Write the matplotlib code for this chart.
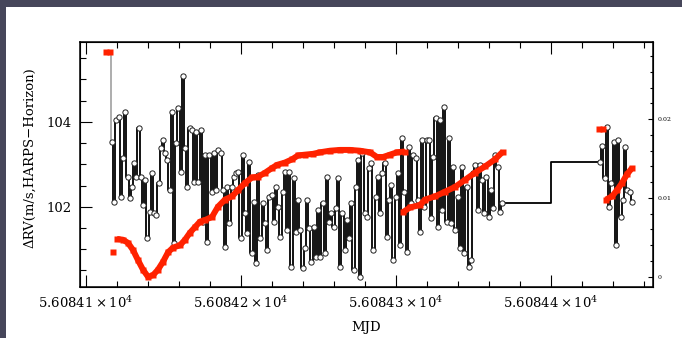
import numpy as np
import matplotlib.pyplot as plt
from matplotlib.ticker import MultipleLocator, FuncFormatter
from matplotlib.patches import Rectangle

plt.rcParams['font.family'] = 'DejaVu Serif'
plt.rcParams['mathtext.fontset'] = 'dejavuserif'

# delta RV (m/s), black series
rv_first = 105.62
t_first = 56084.11548
rv_main = [
    103.52, 102.11, 104.04, 104.11, 102.23, 103.15, 104.23, 102.70, 102.20, 102.46,
    103.03, 102.70, 103.85, 102.70, 102.04, 102.63, 101.26, 101.88, 102.79, 101.85,
    101.80, 102.56, 103.38, 103.57, 103.26, 103.10, 102.39, 104.23, 101.15, 103.50,
    104.32, 102.82, 105.08, 103.38, 102.46, 103.85, 103.80, 102.58, 103.76, 102.58,
    103.80, 101.64, 103.22, 101.17, 103.22, 102.35, 103.26, 102.39, 103.33, 103.26,
    102.39, 101.05, 102.46, 101.62, 102.46, 102.70, 102.79, 102.82, 101.26, 103.22,
    101.85, 101.38, 103.05, 100.91, 102.11, 100.68, 102.75, 101.26, 102.09, 101.62,
    100.98, 102.23, 102.28, 101.64, 102.46, 101.99, 101.29, 102.35, 102.82, 101.45,
    102.82, 100.58, 102.68, 101.40, 102.16, 101.45, 100.56, 101.03, 102.16, 101.50,
    100.70, 101.52, 100.82, 101.92, 100.82, 102.09, 100.91, 102.70, 101.64, 101.85,
    101.52, 101.97, 102.68, 100.58, 101.85, 100.98, 101.69, 101.26, 102.09, 100.51,
    102.46, 103.10, 100.35, 103.26, 101.85, 101.76, 102.91, 103.03, 100.98, 102.23,
    102.70, 101.85, 102.79, 103.03, 101.29, 102.16, 102.51, 100.75, 102.23, 102.79,
    101.10, 103.62, 102.35, 100.93, 103.40, 102.09, 103.22, 103.15, 102.16, 101.40,
    103.57, 101.99, 103.57, 103.57, 101.73, 103.17, 104.09, 101.52, 104.04, 101.92,
    104.35, 101.64, 103.62, 101.62, 102.93, 101.45, 102.23, 101.03, 102.93, 100.91,
    102.46, 100.58, 100.75, 102.79, 102.98, 101.92, 102.98, 102.63, 101.85, 102.70,
    101.76, 102.39, 101.97, 103.22, 102.93, 101.88, 102.09,
]
t_main = (56084.11677, 56084.36839)
rv_late = [103.05, 103.43, 102.68, 103.87, 101.99, 102.56, 103.52, 101.10,
           103.57, 101.76, 102.16, 103.40, 102.39, 102.35, 102.11]
t_late = (56084.43161, 56084.45226)

# red series (right axis)
red_t_a = [56084.11290, 56084.11548]
red_v_a = [0.0285, 0.0285]
red_t_b = [56084.11723]
red_v_b = [0.0032]
red_t_c = [56084.12000, 56084.12387, 56084.12710, 56084.13032, 56084.13355,
           56084.13677, 56084.14000, 56084.14323, 56084.14645, 56084.14968,
           56084.15290, 56084.15613, 56084.16065, 56084.16387, 56084.16710,
           56084.17032, 56084.17355, 56084.17677, 56084.18129, 56084.18516,
           56084.18968, 56084.19419, 56084.19806, 56084.20258, 56084.20710,
           56084.21097, 56084.21548, 56084.22000, 56084.22323, 56084.22839,
           56084.23290, 56084.23677, 56084.24129, 56084.24645, 56084.25097,
           56084.25742, 56084.26387, 56084.27032, 56084.27677, 56084.28323,
           56084.28774, 56084.29161, 56084.29613, 56084.30065, 56084.30581]
red_v_c = [0.0048, 0.0047, 0.0043, 0.0034, 0.0021, 0.0009, 0.0000, 0.0002, 0.0009,
           0.0019, 0.0031, 0.0037, 0.0040, 0.0047, 0.0056, 0.0063, 0.0070, 0.0072,
           0.0076, 0.0089, 0.0098, 0.0102, 0.0110, 0.0119, 0.0126, 0.0127, 0.0132,
           0.0138, 0.0142, 0.0145, 0.0149, 0.0154, 0.0155, 0.0156, 0.0158, 0.0160,
           0.0161, 0.0161, 0.0160, 0.0158, 0.0152, 0.0152, 0.0155, 0.0158, 0.0159]
red_t_d = [56084.30452, 56084.30903, 56084.31548, 56084.31871, 56084.32516,
           56084.33161, 56084.33806, 56084.34452, 56084.35097, 56084.35742,
           56084.36387, 56084.36903]
red_v_d = [0.0082, 0.0088, 0.0091, 0.0098, 0.0102, 0.0108, 0.0114, 0.0123,
           0.0132, 0.0140, 0.0149, 0.0159]
red_t_e = [56084.43097, 56084.43355]
red_v_e = [0.0188, 0.0188]
red_t_f = [56084.43548, 56084.43935, 56084.44258, 56084.44581, 56084.44903, 56084.45226]
red_v_f = [0.0098, 0.0102, 0.0110, 0.0119, 0.0130, 0.0138]

t_black = np.concatenate([np.linspace(*t_main, len(rv_main)),
                          np.linspace(*t_late, len(rv_late))])
rv_black = np.array(rv_main + rv_late)

fig = plt.figure(figsize=(6.82, 3.38), dpi=100)
fig.patch.set_facecolor('#46465a')
fig.add_artist(Rectangle((6/682, 0), 1, 331/338, transform=fig.transFigure,
                         facecolor='white', edgecolor='none', zorder=-1))
ax = fig.add_axes([80/682, 1-287/338, 573/682, 245/338])

ax.plot([t_first, t_black[0]], [rv_first, rv_black[0]], drawstyle='steps-mid',
        color='#a0a0a0', lw=1.2)
ax.plot(t_black, rv_black, drawstyle='steps-mid', color='black', lw=1.3,
        marker='o', ms=3.8, mfc='white', mec='#202020', mew=0.7)

ax.set_xlim(56084.09613, 56084.46581)
ax.set_ylim(100.11, 105.88)
ax.xaxis.set_major_locator(MultipleLocator(0.1))
ax.xaxis.set_minor_locator(MultipleLocator(0.02))
ax.xaxis.set_major_formatter(FuncFormatter(lambda v, p: r'$%.5f\times10^4$' % (v/1e4)))
ax.yaxis.set_major_locator(MultipleLocator(2))
ax.yaxis.set_minor_locator(MultipleLocator(0.5))
ax.tick_params(which='both', direction='in', top=True, right=False, width=0.8,
               labelsize=9.5)
ax.tick_params(which='major', length=8.4, pad=6)
ax.tick_params(which='minor', length=4.2)
ax.set_xlabel('MJD', fontsize=9.5)
ax.set_ylabel('ΔRV(m/s,HARPS−Horizon)', fontsize=9.5)
ax.yaxis.set_label_coords(-0.077, 0.53)
ax.xaxis.set_label_coords(0.5, -0.14)
for s in ax.spines.values():
    s.set_linewidth(1.1)

ax2 = ax.twinx()
ax2.set_ylim(-0.0013, 0.0298)
red = dict(color='#ff2200', marker='s', ms=4.3, mec='none', lw=4.3,
           solid_capstyle='butt')
dots = {k: v for k, v in red.items() if k != 'lw'}
ax2.plot(red_t_a, red_v_a, ls='none', **dots)
ax2.plot(red_t_b, red_v_b, ls='none', **dots)
ax2.plot(red_t_e, red_v_e, ls='none', **dots)
ax2.plot(red_t_c, red_v_c, **red)
ax2.plot(red_t_d, red_v_d, **red)
ax2.plot(red_t_f, red_v_f, **red)
ax2.set_yticks([0, 0.01, 0.02])
ax2.set_yticklabels(['0', '0.01', '0.02'])
ax2.yaxis.set_minor_locator(MultipleLocator(0.002))
ax2.tick_params(which='both', direction='in', labelsize=4.5, width=0.8, pad=3.5)
ax2.tick_params(which='major', length=3.6)
ax2.tick_params(which='minor', length=2.2)

fig.savefig('out.png', dpi=100)
